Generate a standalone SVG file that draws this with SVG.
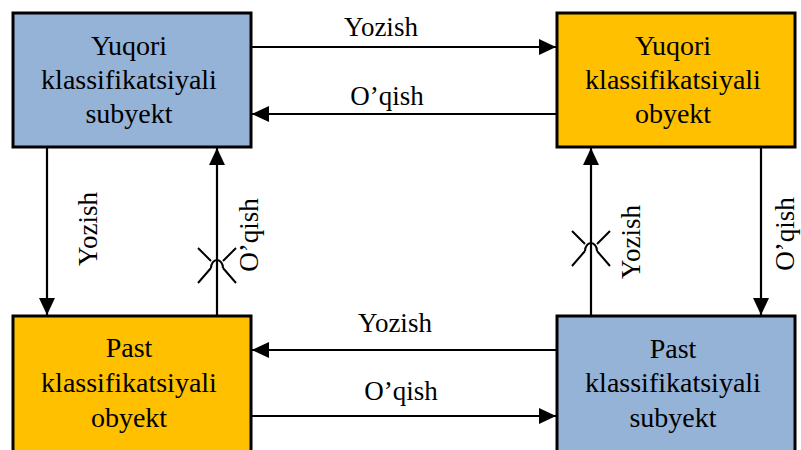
<svg xmlns="http://www.w3.org/2000/svg" width="801" height="450" viewBox="0 0 801 450">
<style>
.box{stroke:#000;stroke-width:3}
.blue{fill:#95B3D7}
.orange{fill:#FFC000}
.t{font-family:'Liberation Serif',serif;font-size:28px;fill:#000;text-anchor:middle}
.lbl{font-family:'Liberation Serif',serif;font-size:27px;fill:#000;text-anchor:middle}
.c{fill:none;stroke:#000;stroke-width:2.2}
.x{fill:none;stroke:#000;stroke-width:2}
</style>
<defs>
<marker id="ah" markerUnits="userSpaceOnUse" markerWidth="18" markerHeight="17" refX="17" refY="8" orient="auto">
<path d="M0,0 L17,8 L0,16 z" fill="#000"/>
</marker>
<path id="xm" d="M-19,-18 L-6,-5 M6,-5 L19,-18 M-6,2 A6,8 0 0 1 6,2 M-6,2 L-19,17 M6,2 L19,17"/>
</defs>
<rect width="801" height="450" fill="#fff"/>
<g id="connectors">
<path class="c" d="M251,47 L556,47" marker-end="url(#ah)"/>
<path class="c" d="M557,114 L252,114" marker-end="url(#ah)"/>
<path class="c" d="M47,147 L47,315" marker-end="url(#ah)"/>
<path class="c" d="M217,316 L217,148" marker-end="url(#ah)"/>
<path class="c" d="M591,316 L591,148" marker-end="url(#ah)"/>
<path class="c" d="M761,147 L761,315" marker-end="url(#ah)"/>
<path class="c" d="M557,350 L252,350" marker-end="url(#ah)"/>
<path class="c" d="M251,416 L556,416" marker-end="url(#ah)"/>
<use href="#xm" class="x" transform="translate(217,266)"/>
<use href="#xm" class="x" transform="translate(591,249)"/>
<text class="lbl" x="381" y="36">Yozish</text>
<text class="lbl" x="387" y="105">O’qish</text>
<text class="lbl" x="395" y="332">Yozish</text>
<text class="lbl" x="401" y="400">O’qish</text>
<text class="lbl" transform="translate(97,229) rotate(-90)">Yozish</text>
<text class="lbl" transform="translate(258,235) rotate(-90)">O’qish</text>
<text class="lbl" transform="translate(640,242) rotate(-90)">Yozish</text>
<text class="lbl" transform="translate(794,234) rotate(-90)">O’qish</text>
</g>
<g id="n1">
<rect class="box blue" x="13" y="13" width="238" height="134"/>
<text class="t" x="129" y="55">Yuqori</text>
<text class="t" x="129" y="89">klassifikatsiyali</text>
<text class="t" x="129" y="123">subyekt</text>
</g>
<g id="n2">
<rect class="box orange" x="557" y="13" width="238" height="134"/>
<text class="t" x="673" y="55">Yuqori</text>
<text class="t" x="673" y="89">klassifikatsiyali</text>
<text class="t" x="673" y="123">obyekt</text>
</g>
<g id="n3">
<rect class="box orange" x="13" y="316" width="238" height="140"/>
<text class="t" x="129" y="357">Past</text>
<text class="t" x="129" y="392">klassifikatsiyali</text>
<text class="t" x="129" y="427">obyekt</text>
</g>
<g id="n4">
<rect class="box blue" x="557" y="316" width="238" height="140"/>
<text class="t" x="673" y="358">Past</text>
<text class="t" x="673" y="392">klassifikatsiyali</text>
<text class="t" x="673" y="427">subyekt</text>
</g>
</svg>
